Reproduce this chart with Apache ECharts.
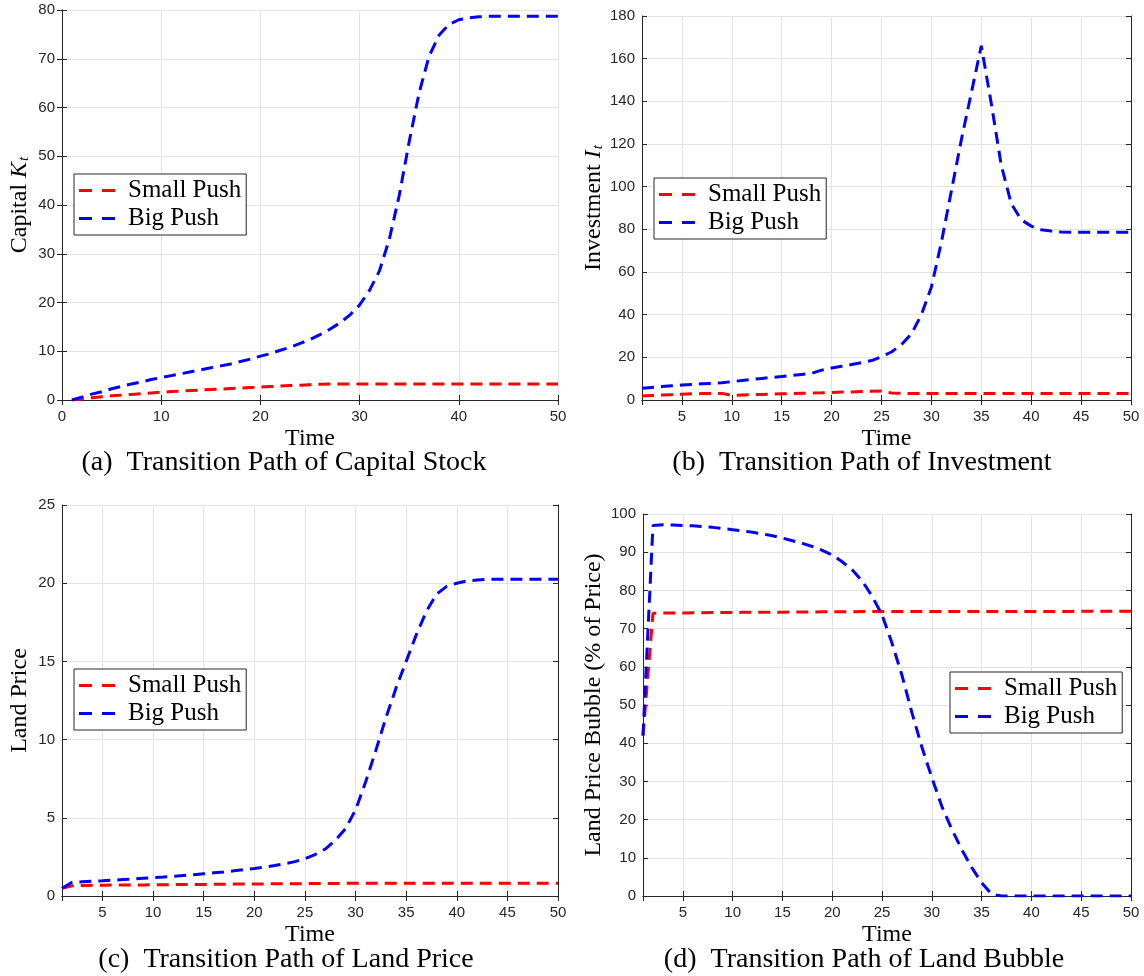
<!DOCTYPE html>
<html>
<head>
<meta charset="utf-8">
<script src="https://cdn.jsdelivr.net/npm/echarts@6/dist/echarts.min.js"></script>
<style>
  html, body { margin: 0; padding: 0; background: #fff; }
  #main { width: 1144px; height: 976px; }
</style>
</head>
<body>
<div id="main"></div>
<script>
// time periods 1..50
var time = [1,2,3,4,5,6,7,8,9,10,11,12,13,14,15,16,17,18,19,20,21,22,23,24,25,
            26,27,28,29,30,31,32,33,34,35,36,37,38,39,40,41,42,43,44,45,46,47,48,49,50];

// (a) capital stock
var capitalSmall = [0,0.2,0.45,0.65,0.85,1.0,1.15,1.3,1.45,1.6,1.72,1.84,1.95,2.05,2.15,2.25,2.35,2.45,2.55,2.65,
                    2.75,2.85,2.95,3.05,3.15,3.22,3.27,3.3,3.3,3.3,3.3,3.3,3.3,3.3,3.3,3.3,3.3,3.3,3.3,3.3,
                    3.3,3.3,3.3,3.3,3.3,3.3,3.3,3.3,3.3,3.3];
var capitalBig = [0,0.6,1.2,1.7,2.3,2.8,3.3,3.7,4.2,4.6,5.0,5.4,5.8,6.2,6.6,7.0,7.4,7.9,8.4,9.0,
                  9.5,10.2,10.8,11.6,12.4,13.4,14.5,15.8,17.4,19.5,22.5,26.5,33,42,53,63,70.5,74.8,77,78,
                  78.4,78.6,78.7,78.7,78.7,78.7,78.7,78.7,78.7,78.7];

// (b) investment
var investSmall = [1.9,2.1,2.3,2.5,2.7,2.9,3.0,3.1,3.1,2.2,2.35,2.5,2.6,2.75,2.9,3.0,3.15,3.3,3.4,3.55,
                   3.7,3.8,3.95,4.1,4.2,3.3,3.1,3.1,3.1,3.1,3.1,3.1,3.1,3.1,3.1,3.1,3.1,3.1,3.1,3.1,
                   3.1,3.1,3.1,3.1,3.1,3.1,3.1,3.1,3.1,3.1];
var investBig = [5.5,5.9,6.3,6.7,7.0,7.3,7.6,7.8,8.1,8.6,9.1,9.6,10.1,10.6,11.0,11.5,12.0,12.5,14.0,15.0,
                 15.8,16.6,17.5,18.5,20.3,22.5,26,31,40,53,74,98,122,144,166,139,110,92,84.5,81.5,
                 79.8,79.2,78.8,78.6,78.6,78.6,78.6,78.6,78.6,78.6];

// (c) land price
var landSmall = [0.5,0.65,0.67,0.68,0.69,0.7,0.7,0.71,0.71,0.72,0.72,0.73,0.73,0.74,0.74,0.75,0.75,0.76,0.76,0.77,
                 0.77,0.78,0.78,0.79,0.79,0.8,0.8,0.8,0.81,0.81,0.81,0.81,0.81,0.81,0.81,0.81,0.81,0.81,0.81,0.81,
                 0.81,0.81,0.81,0.81,0.81,0.81,0.81,0.81,0.81,0.81];
var landBig = [0.5,0.88,0.91,0.94,0.97,1.01,1.05,1.09,1.13,1.17,1.21,1.26,1.31,1.36,1.42,1.48,1.54,1.61,1.68,1.76,
               1.85,1.95,2.06,2.2,2.38,2.65,3.0,3.55,4.3,5.5,7.3,9.3,11.4,13.3,15.0,16.7,18.2,19.3,19.8,20.0,
               20.15,20.2,20.25,20.25,20.25,20.25,20.25,20.25,20.25,20.25];

// (d) land bubble, % of price
var bubbleSmall = [42,74.0,74.05,74.1,74.1,74.15,74.15,74.2,74.2,74.2,74.25,74.25,74.3,74.3,74.3,74.35,74.35,74.35,74.4,74.4,
                   74.4,74.4,74.45,74.45,74.45,74.5,74.5,74.5,74.5,74.5,74.5,74.5,74.5,74.5,74.5,74.5,74.5,74.5,74.5,74.5,
                   74.5,74.5,74.5,74.5,74.55,74.55,74.55,74.55,74.55,74.55];
var bubbleBig = [42,97,97.2,97.1,97.0,96.9,96.7,96.5,96.2,95.9,95.6,95.2,94.8,94.3,93.7,93.0,92.3,91.5,90.5,89.3,
                 87.5,85.4,82.5,78.5,73.6,66.2,57.8,48,39,31,23.5,17.5,12.2,7.5,3.5,0.5,0,0,0,0,
                 0,0,0,0,0,0,0,0,0,0];

var seriesNames = ['Small Push', 'Big Push'];
var seriesColors = ['#ff0000', '#0000ff'];

var serif = 'Liberation Serif';
var sans = 'Liberation Sans';
var ink = '#262626';
// two dashes, used as legend sample
var dashIcon = 'path://M0,0h13v3h-13z M23,0h13v3h-13z';

var panels = [
    { box: [62, 10, 496, 390], xMin: 0, xStep: 10, yMax: 80, yStep: 10, nameGap: 30,
      yName: '{n|Capital }{i|K}{s|t}', caption: '(a)  Transition Path of Capital Stock', capX: 284, capY: 463,
      legend: [74, 174], data: [capitalSmall, capitalBig] },
    { box: [642, 16, 489, 384], xMin: 1, xStep: null, yMax: 180, yStep: 20, nameGap: 36,
      yName: '{n|Investment }{i|I}{s|t}', caption: '(b)  Transition Path of Investment', capX: 862, capY: 463,
      legend: [654, 178], data: [investSmall, investBig] },
    { box: [62, 505, 496, 391], xMin: 1, xStep: null, yMax: 25, yStep: 5, nameGap: 30,
      yName: '{n|Land Price}', caption: '(c)  Transition Path of Land Price', capX: 286, capY: 960,
      legend: [74, 669], data: [landSmall, landBig] },
    { box: [643, 514, 488, 382], xMin: 1, xStep: null, yMax: 100, yStep: 10, nameGap: 37,
      yName: '{n|Land Price Bubble (% of Price)}', caption: '(d)  Transition Path of Land Bubble', capX: 864, capY: 960,
      legend: [950, 672], data: [bubbleSmall, bubbleBig] }
];

var nameRich = {
    n: { fontFamily: serif, fontSize: 24, color: '#000' },
    i: { fontFamily: serif, fontSize: 24, fontStyle: 'italic', color: '#000' },
    s: { fontFamily: serif, fontSize: 15, fontStyle: 'italic', color: '#000', padding: [10, 0, 0, 1] }
};

var grids = [], xAxes = [], yAxes = [], series = [], legends = [], texts = [];

panels.forEach(function (p, k) {
    grids.push({ left: p.box[0], top: p.box[1], width: p.box[2], height: p.box[3], containLabel: false });

    var xBase = {
        gridIndex: k, type: 'value', min: p.xMin, max: 50,
        axisLine: { show: true, lineStyle: { color: ink, width: 1 } },
        axisTick: { show: true, inside: true, length: 5, lineStyle: { color: ink } }
    };
    if (p.xStep) xBase.interval = p.xStep; else xBase.splitNumber = 10;

    var xBottom = Object.assign({}, xBase, {
        position: 'bottom',
        axisLabel: { show: true, margin: 9, fontFamily: sans, fontSize: 15, color: ink,
                     formatter: function (v) { return v === 1 ? '' : v; } },
        splitLine: { show: true, lineStyle: { color: '#e3e3e3', width: 1 } },
        name: 'Time', nameLocation: 'middle', nameGap: 27,
        nameTextStyle: { fontFamily: serif, fontSize: 24, color: '#000' }
    });
    var xTop = Object.assign({}, xBase, {
        position: 'top', axisLabel: { show: false }, splitLine: { show: false }
    });

    var yBase = {
        gridIndex: k, type: 'value', min: 0, max: p.yMax, interval: p.yStep,
        axisLine: { show: true, lineStyle: { color: ink, width: 1 } },
        axisTick: { show: true, inside: true, length: 5, lineStyle: { color: ink } }
    };
    var yLeft = Object.assign({}, yBase, {
        position: 'left',
        axisLabel: { show: true, margin: 7, fontFamily: sans, fontSize: 15, color: ink },
        splitLine: { show: true, lineStyle: { color: '#e3e3e3', width: 1 } },
        name: p.yName, nameLocation: 'middle', nameGap: p.nameGap,
        nameTextStyle: { fontFamily: serif, fontSize: 24, color: '#000', rich: nameRich }
    });
    var yRight = Object.assign({}, yBase, {
        position: 'right', axisLabel: { show: false }, splitLine: { show: false }
    });

    xAxes.push(xBottom, xTop);
    yAxes.push(yLeft, yRight);

    p.data.forEach(function (vals, j) {
        series.push({
            name: seriesNames[j],
            type: 'line',
            xAxisIndex: 2 * k,
            yAxisIndex: 2 * k,
            showSymbol: false,
            symbol: 'none',
            animation: false,
            itemStyle: { color: seriesColors[j] },
            lineStyle: { color: seriesColors[j], width: 3, type: [12, 7] },
            data: time.map(function (t, i) { return [t, vals[i]]; })
        });
    });

    legends.push({
        data: seriesNames,
        orient: 'vertical',
        left: p.legend[0], top: p.legend[1],
        icon: dashIcon,
        itemWidth: 36, itemHeight: 3, itemGap: 3,
        padding: [4, 5, 4, 5],
        borderColor: ink, borderWidth: 1,
        backgroundColor: '#fff',
        selectedMode: false,
        textStyle: { fontFamily: serif, fontSize: 25, color: '#000', padding: [0, 0, 0, 8] }
    });

    texts.push({
        type: 'text', x: p.capX, y: p.capY,
        style: { text: p.caption, font: '28px "Liberation Serif"', fill: '#000',
                 textAlign: 'center', textVerticalAlign: 'middle', align: 'center', verticalAlign: 'middle' }
    });
});

var myChart = echarts.init(document.getElementById('main'));
myChart.setOption({
    backgroundColor: '#fff',
    animation: false,
    grid: grids,
    xAxis: xAxes,
    yAxis: yAxes,
    legend: legends,
    graphic: texts,
    series: series
});
</script>
</body>
</html>
